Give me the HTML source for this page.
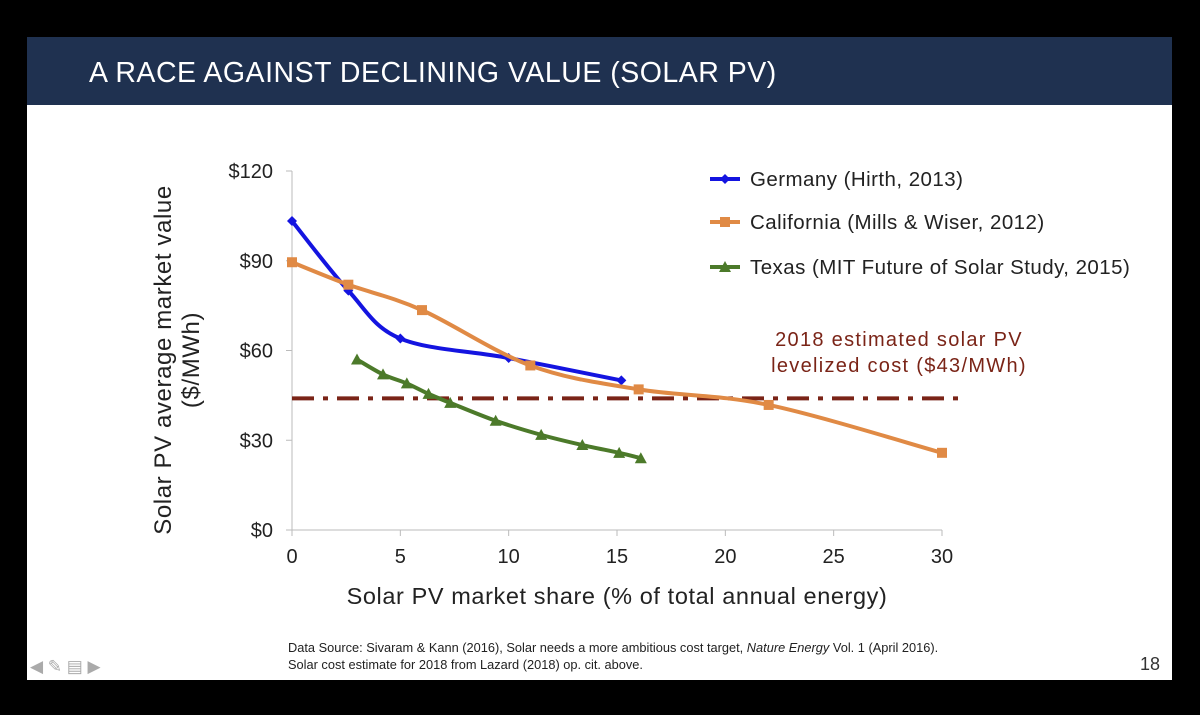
<!DOCTYPE html>
<html><head><meta charset="utf-8"><style>
body{margin:0;background:#000;width:1200px;height:715px;overflow:hidden;font-family:"Liberation Sans",sans-serif}
#slide{position:absolute;left:27px;top:37px;width:1145px;height:643px;background:#fff}
#hdr{position:absolute;left:0;top:0;width:1145px;height:68px;background:#1f3150}
#hdr span{position:absolute;left:62px;top:20px;color:#fff;font-size:28.5px;letter-spacing:0.5px}
</style></head><body>
<div id="slide">
<div id="hdr"><span>A RACE AGAINST DECLINING VALUE (SOLAR PV)</span></div>
</div>
<svg id="chart" width="1200" height="715" style="position:absolute;left:0;top:0"></svg>
<script>
const yTicks=[0,30,60,90,120];
const yTickLabels=["$0","$30","$60","$90","$120"];
const xTicks=[0,5,10,15,20,25,30];
const germanyX=[0,2.6,5,10,15.2];
const germanyY=[103.3,80,64,57.5,50];
const californiaX=[0,2.6,6,11,16,22,30];
const californiaY=[89.5,82,73.5,55,47,41.8,25.8];
const texasX=[3,4.2,5.3,6.3,7.3,9.4,11.5,13.4,15.1,16.1];
const texasY=[57,52,49,45.5,42.5,36.5,31.8,28.4,25.8,24];
const costLevel=44;
const NS="http://www.w3.org/2000/svg";
const svg=document.getElementById('chart');
const X=v=>292+v*650/30, Y=v=>530-v*359/120;
function mk(t,a,p){const e=document.createElementNS(NS,t);for(const k in a)e.setAttribute(k,a[k]);(p||svg).appendChild(e);return e;}
function txt(x,y,s,a,p){const e=mk('text',Object.assign({x:x,y:y,fill:'#222','font-size':19,'font-family':'Liberation Sans, sans-serif'},a||{}),p);e.textContent=s;return e;}
let ax=mk('line',{x1:292,y1:Y(120),x2:292,y2:530,stroke:'#bbb','stroke-width':1});

let bx=mk('line',{x1:292,y1:530,x2:942,y2:530,stroke:'#bbb','stroke-width':1});

yTicks.forEach((v,i)=>{mk('line',{x1:286,y1:Y(v),x2:292,y2:Y(v),stroke:'#bbb'});
 let t=txt(273,Y(v)+7,yTickLabels[i],{'text-anchor':'end','font-size':20});});
xTicks.forEach(v=>{mk('line',{x1:X(v),y1:530,x2:X(v),y2:536,stroke:'#bbb'});
 let t=txt(X(v),563,String(v),{'text-anchor':'middle','font-size':20});});
let xt=txt(617,604,'Solar PV market share (% of total annual energy)',{'text-anchor':'middle','font-size':23.5,'letter-spacing':'0.6'});

let yt=mk('text',{transform:'translate(171,360) rotate(-90)','text-anchor':'middle','font-size':24,'letter-spacing':'0.6',fill:'#222','font-family':'Liberation Sans, sans-serif'});

mk('tspan',{x:0,y:0},yt).textContent='Solar PV average market value';
mk('tspan',{x:0,y:28},yt).textContent='($/MWh)';
let cl=mk('line',{x1:X(0),y1:Y(costLevel),x2:965,y2:Y(costLevel),stroke:'#7a2417','stroke-width':4,'stroke-dasharray':'22,9,5,9'});

let c1=txt(899,346,'2018 estimated solar PV',{'text-anchor':'middle',fill:'#7a2417','font-size':20,'letter-spacing':'1.3'});

let c2=txt(899,372,'levelized cost ($43/MWh)',{'text-anchor':'middle',fill:'#7a2417','font-size':20,'letter-spacing':'1.3'});

function path(xs,ys){const p=xs.map((x,i)=>[X(x),Y(ys[i])]);let d='M'+p[0];
 for(let i=0;i<p.length-1;i++){const a=p[i-1]||p[i],b=p[i],c=p[i+1],e=p[i+2]||c;
  d+=' C'+(b[0]+(c[0]-a[0])/6)+','+(b[1]+(c[1]-a[1])/6)+' '+(c[0]-(e[0]-b[0])/6)+','+(c[1]-(e[1]-b[1])/6)+' '+c[0]+','+c[1];}
 return d;}
function marker(type,x,y,col,g){if(type==='sq')return mk('rect',{x:x-5,y:y-5,width:10,height:10,fill:col},g);
 if(type==='tri')return mk('polygon',{points:`${x-6},${y+5} ${x+6},${y+5} ${x},${y-6}`,fill:col},g);
 return mk('polygon',{points:`${x-5},${y} ${x},${y-5} ${x+5},${y} ${x},${y+5}`,fill:col},g);}
const series=[[germanyX,germanyY,'#1414e0','dia','germany','Germany (Hirth, 2013)',179],
 [californiaX,californiaY,'#e08a45','sq','california','California (Mills & Wiser, 2012)',222],
 [texasX,texasY,'#4c7a2a','tri','texas','Texas (MIT Future of Solar Study, 2015)',267]];
series.forEach(s=>{const g=mk('g',{});
 mk('path',{d:path(s[0],s[1]),fill:'none',stroke:s[2],'stroke-width':4,'stroke-linejoin':'round'},g);
 s[0].forEach((x,i)=>{const m=marker(s[3],X(x),Y(s[1][i]),s[2],g);});
 const lg=mk('g',{});
 mk('line',{x1:710,y1:s[6],x2:740,y2:s[6],stroke:s[2],'stroke-width':4},lg);marker(s[3],725,s[6],s[2],lg);
 txt(750,s[6]+7,s[5],{'font-size':20.5,'letter-spacing':'0.45'},lg);});
let f1=txt(288,652,'Data Source: Sivaram & Kann (2016), Solar needs a more ambitious cost target, ',{'font-size':12.8});

mk('tspan',{'font-style':'italic'},f1).textContent='Nature Energy';
mk('tspan',{},f1).textContent=' Vol. 1 (April 2016).';
let f2=txt(288,669,'Solar cost estimate for 2018 from Lazard (2018) op. cit. above.',{'font-size':12.8});

let pn=txt(1140,670,'18',{'font-size':18,fill:'#333'});
let nav=txt(30,672,'◀ ✎ ▤ ▶',{'font-size':17,fill:'#aaa'});
</script>
</body></html>
